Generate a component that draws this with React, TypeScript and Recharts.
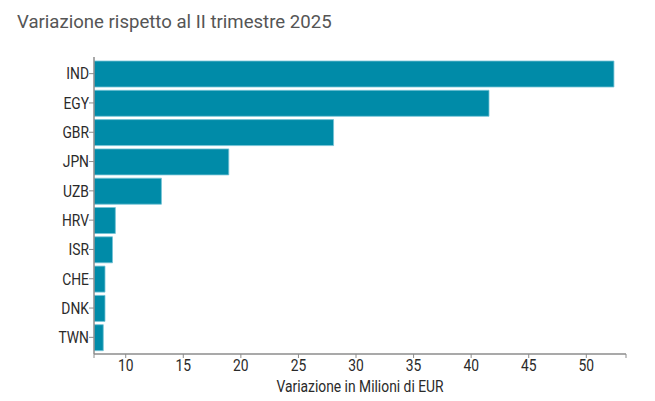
import { BarChart, Bar, XAxis, YAxis } from 'recharts';

const COUNTRIES = ['IND', 'EGY', 'GBR', 'JPN', 'UZB', 'HRV', 'ISR', 'CHE', 'DNK', 'TWN'];
const VARIAZIONE = [52.4, 41.55, 28.05, 18.95, 13.1, 9.1, 8.85, 8.2, 8.2, 8.05];
const X_TICKS = [10, 15, 20, 25, 30, 35, 40, 45, 50];

const BAR_FILL = '#008ba8';
const BAR_STROKE = '#74c3d5';
const AXIS = '#8c8c8c';
const TEXT = '#2a2a2a';

const data = COUNTRIES.map((code, i) => ({ code, value: VARIAZIONE[i] }));

const minV = Math.min(...VARIAZIONE) * 0.9;
const maxV = Math.max(...VARIAZIONE) * 1.02;

// narrow text, close to a condensed face
const SQUEEZE = 0.84;
const FONT = 'Roboto, sans-serif';
const FONT_SIZE = 16.5;

function NarrowText({ x, y, anchor, dy, children }: any) {
  return (
    <text
      transform={`translate(${x},${y}) scale(${SQUEEZE},1)`}
      textAnchor={anchor}
      dy={dy}
      fontFamily={FONT}
      fontSize={FONT_SIZE}
      fill={TEXT}
    >
      {children}
    </text>
  );
}

function YTick(props: any) {
  const { x, y, payload } = props;
  return (
    <NarrowText x={x} y={y} anchor="end" dy="0.35em">
      {payload.value}
    </NarrowText>
  );
}

function XTick(props: any) {
  const { x, y, payload } = props;
  if (!X_TICKS.includes(payload.value)) return null;
  return (
    <NarrowText x={x} y={y} anchor="middle" dy="0.71em">
      {String(payload.value)}
    </NarrowText>
  );
}

function XLabel(props: any) {
  const { x, width, y, height } = props.viewBox;
  return (
    <NarrowText x={x + width / 2} y={y + height - 9} anchor="middle">
      Variazione in Milioni di EUR
    </NarrowText>
  );
}

export default function App() {
  return (
    <div style={{ position: 'absolute', left: 0, top: 0, width: 655, height: 401, background: '#fff' }}>
      <div
        style={{
          position: 'absolute',
          left: 17,
          top: 12,
          fontFamily: FONT,
          fontSize: 18.6,
          lineHeight: '21px',
          color: '#555555',
          whiteSpace: 'nowrap',
        }}
      >
        Variazione rispetto al II trimestre 2025
      </div>
      <BarChart
        width={655}
        height={401}
        data={data}
        layout="vertical"
        margin={{ top: 57, right: 29, left: 0, bottom: 0 }}
      >
        <XAxis
          type="number"
          domain={[minV, maxV]}
          ticks={[minV, ...X_TICKS, maxV]}
          allowDataOverflow
          height={47}
          tick={<XTick />}
          tickSize={4}
          tickMargin={1}
          axisLine={{ stroke: AXIS, strokeWidth: 1.5 }}
          tickLine={{ stroke: AXIS }}
          interval={0}
          label={<XLabel />}
        />
        <YAxis
          type="category"
          dataKey="code"
          width={94}
          padding={{ top: 2, bottom: 2 }}
          tick={<YTick />}
          tickSize={5}
          tickMargin={0}
          axisLine={{ stroke: AXIS, strokeWidth: 1.5 }}
          tickLine={{ stroke: AXIS }}
          interval={0}
        />
        <Bar
          dataKey="value"
          fill={BAR_FILL}
          stroke={BAR_STROKE}
          strokeWidth={0.8}
          barSize={26}
          isAnimationActive={false}
        />
      </BarChart>
    </div>
  );
}
